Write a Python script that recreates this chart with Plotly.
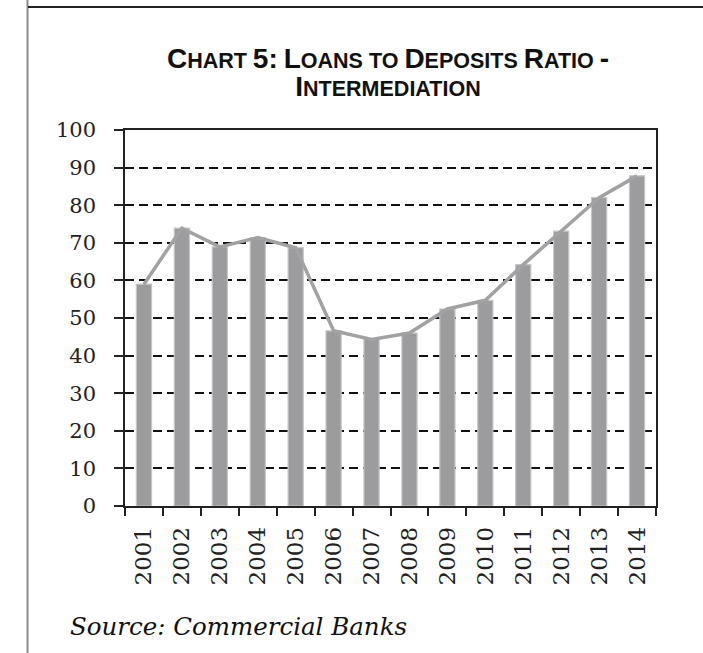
import plotly.graph_objects as go

years = ["2001", "2002", "2003", "2004", "2005", "2006", "2007",
         "2008", "2009", "2010", "2011", "2012", "2013", "2014"]
loans_to_deposits = [59.0, 73.9, 68.9, 71.4, 68.7, 46.6, 44.3,
                     46.0, 52.4, 54.7, 64.2, 73.1, 82.0, 87.8]
y_ticks = list(range(0, 101, 10))

W, H = 703, 653
L, R, T, B = 125, 47, 130, 147
pw, ph = W - L - R, H - T - B

BIG, SMALL = 28, 21.5


def px_x(x):
    return (x - L) / pw


def px_y(y):
    return (H - B - y) / ph


def big(s):
    return f"<span style='font-size:{BIG}px'>{s}</span>"


# Small-caps title: initial capitals at full size, the rest at reduced size
title_line1 = (big("C") + "HART " + big("5:") + " " + big("L") + "OANS TO "
               + big("D") + "EPOSITS " + big("R") + "ATIO " + big("-"))
title_line2 = big("I") + "NTERMEDIATION"

fig = go.Figure()
fig.add_trace(go.Bar(
    x=years, y=loans_to_deposits, width=0.4,
    marker=dict(color="#9c9c9e", line=dict(color="#c6c6c6", width=1.2)),
    showlegend=False, hoverinfo="x+y",
))
fig.add_trace(go.Scatter(
    x=years, y=loans_to_deposits, mode="lines",
    line=dict(color="#a2a2a4", width=3.5),
    showlegend=False, hoverinfo="x+y",
))

fig.update_layout(
    width=W, height=H,
    margin=dict(l=L, r=R, t=T, b=B),
    paper_bgcolor="white", plot_bgcolor="white",
    font=dict(family="DejaVu Serif", color="#222"),
    title=dict(
        text=title_line1 + "<br>" + title_line2,
        font=dict(family="Liberation Sans", size=SMALL, color="#111", weight="bold"),
        x=px_x(388), xref="paper", xanchor="center",
        y=1 - 68 / H, yref="container", yanchor="top",
    ),
    bargap=0.6,
    shapes=[
        dict(type="line", xref="paper", yref="paper",
             x0=px_x(27.5), x1=px_x(27.5), y0=px_y(0), y1=px_y(H),
             line=dict(color="#8a8a8a", width=2)),
        dict(type="line", xref="paper", yref="paper",
             x0=px_x(28), x1=px_x(W), y0=px_y(7), y1=px_y(7),
             line=dict(color="#222", width=2)),
    ],
    annotations=[
        dict(text="<i>Source: Commercial Banks</i>", xref="paper", yref="paper",
             x=px_x(68), y=px_y(626), xanchor="left", yanchor="middle",
             showarrow=False,
             font=dict(family="DejaVu Serif", size=24.5, color="#111")),
    ],
)

fig.update_xaxes(
    type="category", tickson="boundaries",
    ticks="outside", ticklen=8, tickwidth=1.5, tickcolor="#222",
    tickangle=-90, tickfont=dict(family="DejaVu Serif", size=23, color="#222"),
    ticklabelstandoff=10,
    showline=True, linecolor="#222", linewidth=1.5, mirror=True,
    showgrid=False,
)
fig.update_yaxes(
    range=[0, 100], tickvals=y_ticks,
    ticks="outside", ticklen=9, tickwidth=1.5, tickcolor="#222",
    tickfont=dict(family="DejaVu Serif", size=21, color="#222"),
    ticklabelstandoff=14,
    showline=True, linecolor="#222", linewidth=1.5, mirror=True,
    showgrid=True, gridcolor="#111", gridwidth=1.5, griddash="9px,5px",
    zeroline=False,
)

fig.write_html("out.html")
